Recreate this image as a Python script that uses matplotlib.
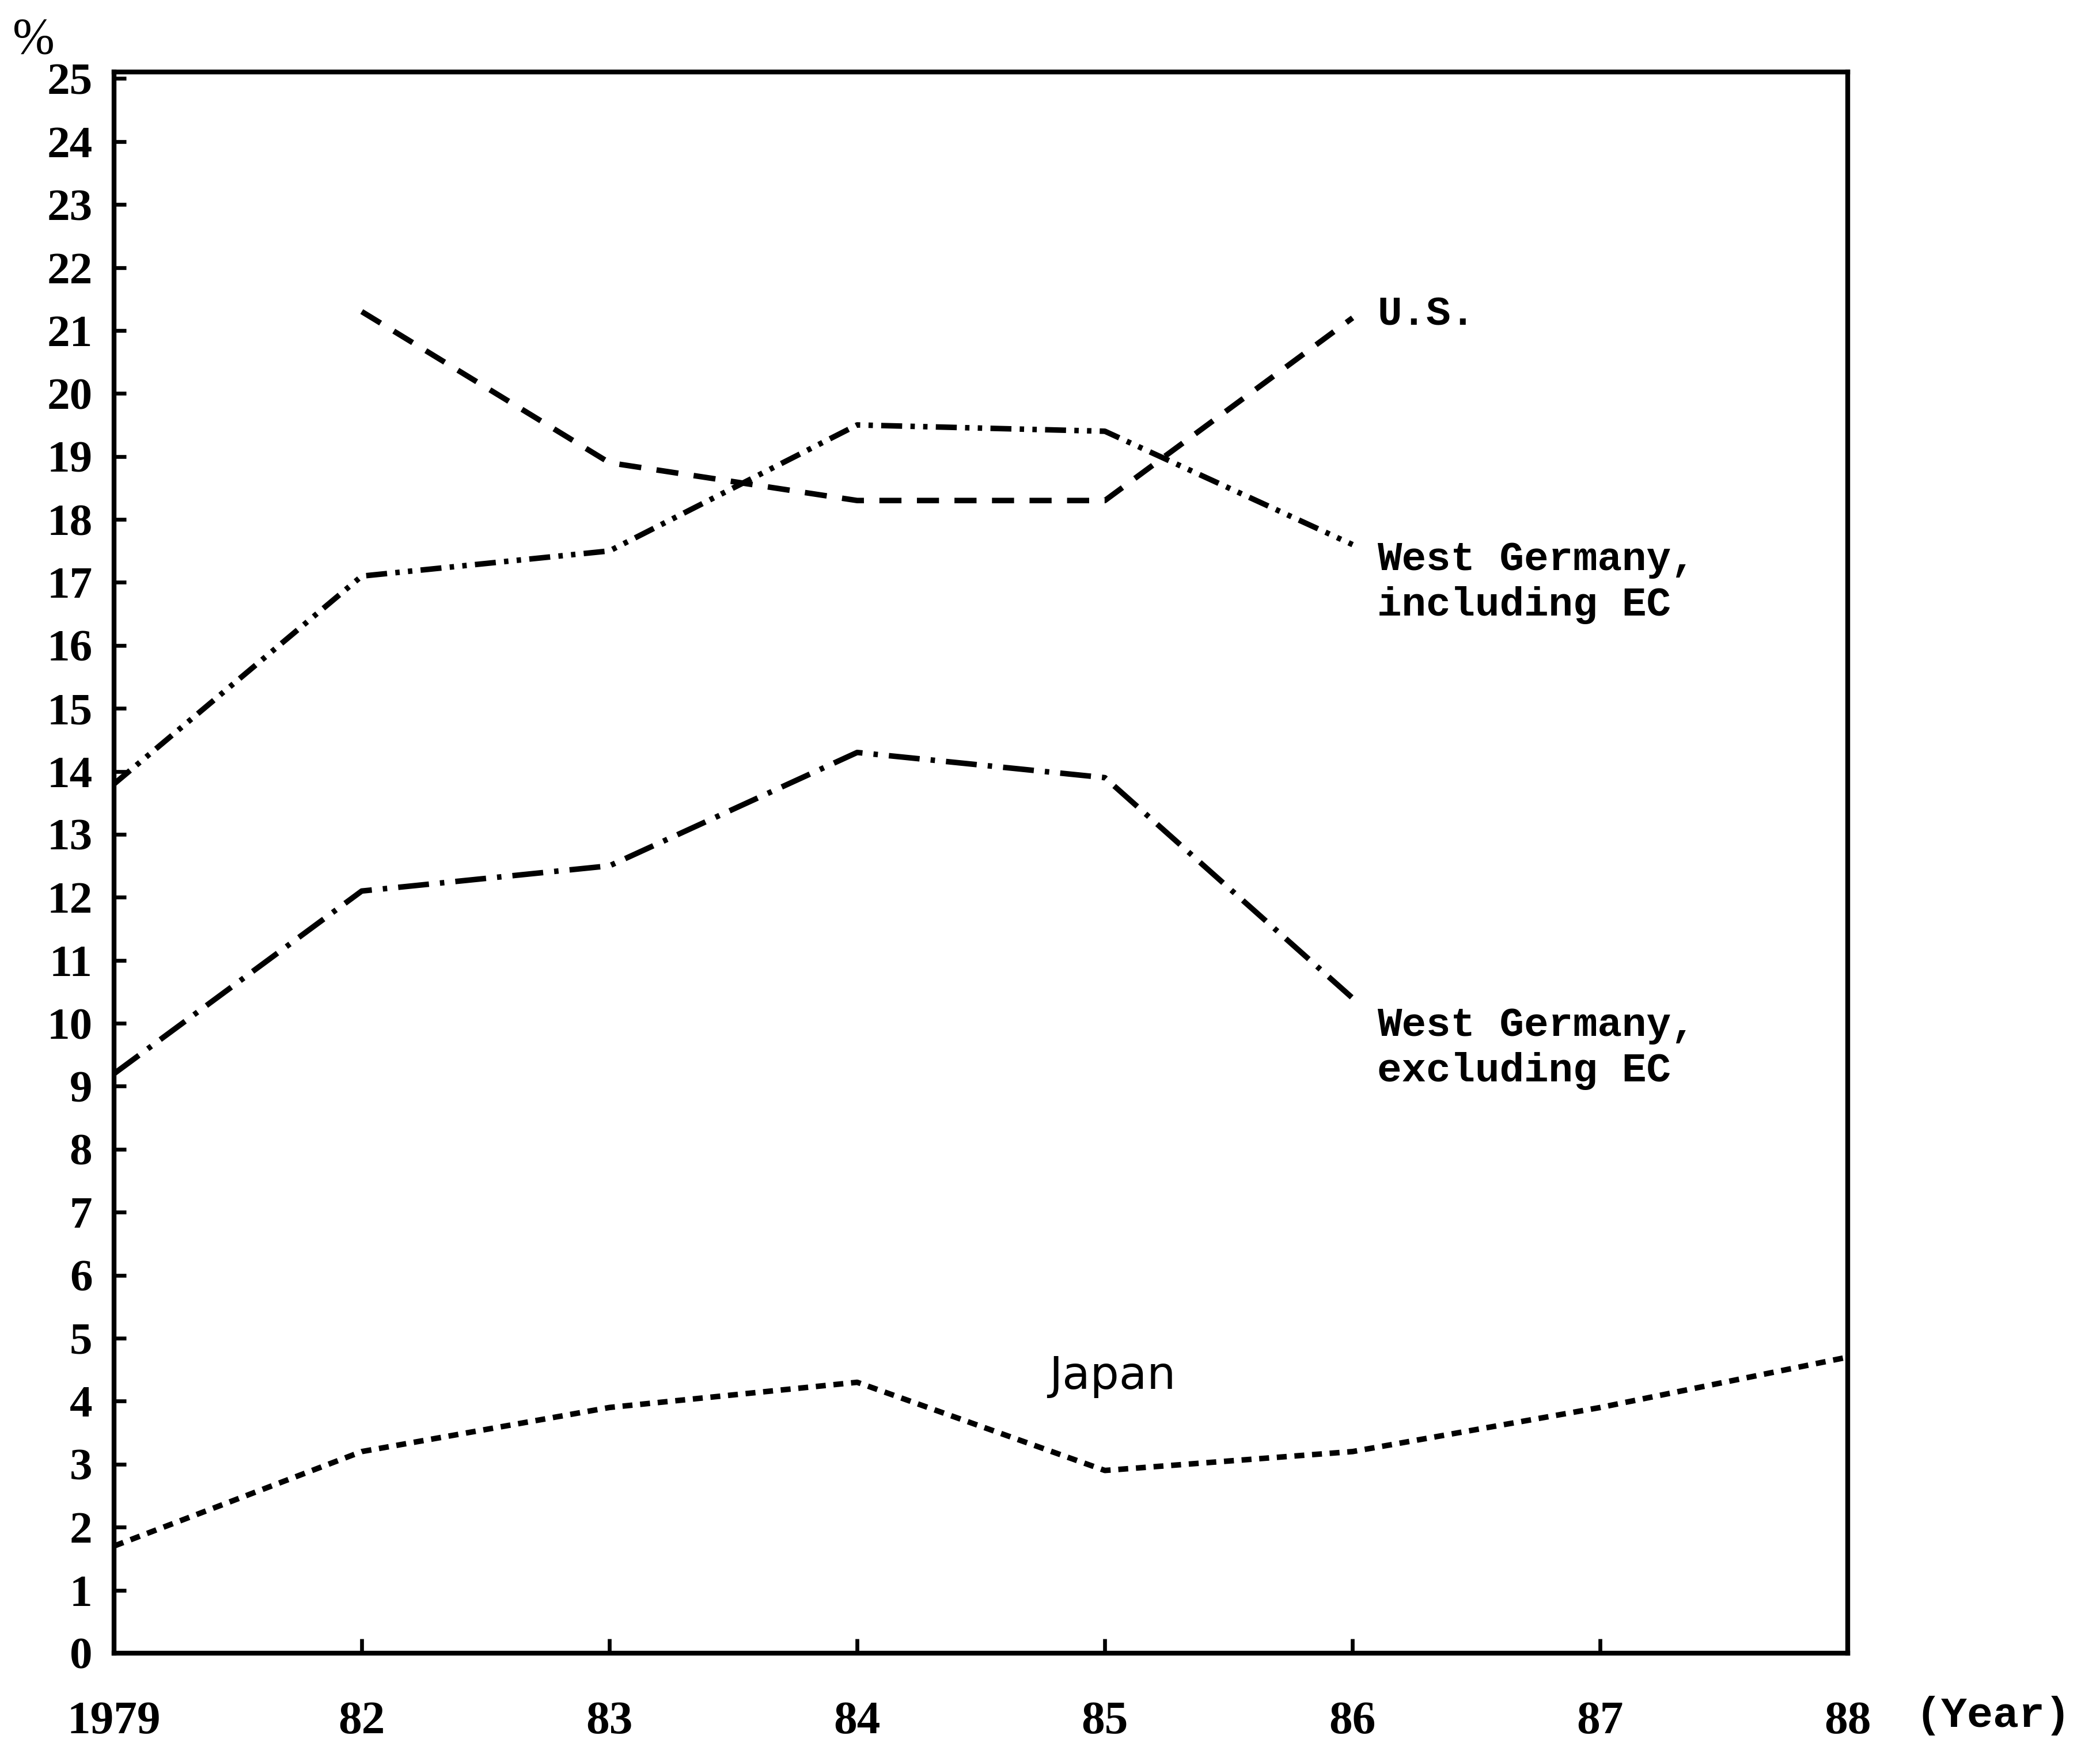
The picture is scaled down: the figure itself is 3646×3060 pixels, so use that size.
import matplotlib
matplotlib.use("Agg")
import matplotlib.pyplot as plt

# ---- data ----
years = ["1979", "82", "83", "84", "85", "86", "87", "88"]
pos = list(range(len(years)))

us_x = [1, 2, 3, 4, 5]
us_vals = [21.3, 18.9, 18.3, 18.3, 21.2]

wg_incl_x = [0, 1, 2, 3, 4, 5]
wg_incl_vals = [13.8, 17.1, 17.5, 19.5, 19.4, 17.6]

wg_excl_x = [0, 1, 2, 3, 4, 5]
wg_excl_vals = [9.2, 12.1, 12.5, 14.3, 13.9, 10.4]

japan_x = [0, 1, 2, 3, 4, 5, 6, 7]
japan_vals = [1.7, 3.2, 3.9, 4.3, 2.9, 3.2, 3.9, 4.7]

yticks = list(range(0, 26))

mono = ["Liberation Mono", "DejaVu Sans Mono"]
serif = ["Liberation Serif", "DejaVu Serif"]

fig = plt.figure(figsize=(3646 / 300, 3060 / 300), dpi=300)
ax = fig.add_axes([0.0543, 0.0618, 0.8257, 0.8972])

lw = 2.3
ax.plot(wg_incl_x, wg_incl_vals, color="black", lw=lw,
        dashes=(3.8, 1.5, 0.8, 1.5, 0.8, 1.5))
ax.plot(us_x, us_vals, color="black", lw=lw, dashes=(4.0, 2.8))
ax.plot(wg_excl_x, wg_excl_vals, color="black", lw=lw,
        dashes=(5.6, 2.0, 0.8, 2.0))
ax.plot(japan_x, japan_vals, color="black", lw=lw, dashes=(1.8, 1.4))

ax.set_xlim(0, 7)
ax.set_ylim(0, 25.1)
ax.set_xticks(pos)
ax.set_xticklabels(years, fontfamily=serif, fontsize=19.5, fontweight="bold")
ax.set_yticks(yticks)
ax.set_yticklabels([str(v) for v in yticks], fontfamily=serif, fontsize=19,
                   fontweight="bold")
ax.tick_params(axis="y", direction="in", length=5, width=1.6, pad=9)
ax.tick_params(axis="x", direction="in", length=6, width=1.6, pad=20)
for s in ax.spines.values():
    s.set_linewidth(2.0)
    s.set_color("black")

# labels
ax.text(5.1, 21.25, "U.S.", fontfamily=mono, fontweight="bold", fontsize=17,
        ha="left", va="center")
ax.text(5.1, 17.0, "West Germany,\nincluding EC", fontfamily=mono, fontweight="bold",
        fontsize=17, ha="left", va="center", linespacing=1.25)
ax.text(5.1, 9.6, "West Germany,\nexcluding EC", fontfamily=mono, fontweight="bold",
        fontsize=17, ha="left", va="center", linespacing=1.25)
ax.text(4.03, 4.4, "Japan", fontfamily=["DejaVu Sans"], fontsize=19,
        ha="center", va="center")

ax.annotate("(Year)", xy=(7, 0), xycoords="data", xytext=(28, -26),
            textcoords="offset points", ha="left", va="center",
            fontfamily=mono, fontweight="bold", fontsize=18, annotation_clip=False)
fig.text(0.016, 0.977, "%", fontfamily=serif, fontsize=21, ha="center", va="center")

fig.savefig("out.png", dpi=300, facecolor="white")
